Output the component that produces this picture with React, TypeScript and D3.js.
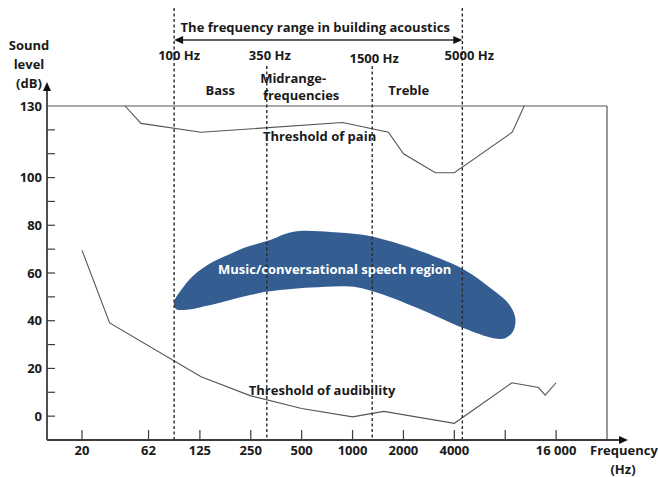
import React from 'react';
import * as d3 from 'd3';

// ---- data ----
const xTickValues = [20, 62, 125, 250, 500, 1000, 2000, 4000, 8000, 16000];
const xTickLabels = ['20', '62', '125', '250', '500', '1000', '2000', '4000', '', '16 000'];
const yTickValues = [0, 10, 20, 30, 40, 50, 60, 70, 80, 90, 100, 110, 120];
const yLabelValues = [0, 20, 40, 60, 80, 100, 130];

const markerFreqs = [88, 311, 1307, 4460];
const markerLabels = ['100 Hz', '350 Hz', '1500 Hz', '5000 Hz'];
const markerTall = [true, false, false, true];

const bandLabels = ['Bass', 'Midrange-|frequencies', 'Treble'];
const bandFreqs = [165, 470, 2150];

const painFreq = [41.6, 54.6, 127, 873, 1630, 2000, 3090, 4000, 8800, 10360];
const painDb = [130, 122.7, 119, 123.1, 119, 110, 102, 102, 119, 130];

const audFreq = [20, 32, 127, 250, 500, 1000, 1530, 4000, 8760, 12580, 13780, 16000];
const audDb = [69.5, 39.1, 16.5, 8.5, 3.2, -0.3, 2, -3, 14, 12, 8.8, 14];

const blobTopFreq = [87.8, 96.6, 115, 145, 183, 227, 315, 448, 741, 1115, 1566, 2420, 4520, 6797, 8221, 9165];
const blobTopDb = [47.8, 52.8, 59.1, 64.2, 67.5, 70.5, 73.5, 77.3, 77.2, 76.1, 73.8, 69.6, 61.6, 52.8, 47.8, 41.5];
const blobBottomFreq = [8919, 8000, 6797, 4520, 2420, 1330, 973, 565, 315, 227, 145, 100.6, 90.2];
const blobBottomDb = [35.7, 32.7, 32.7, 36.9, 45.3, 52.2, 54.3, 53.9, 52.2, 50.1, 46.6, 44.5, 44.9];

// ---- layout ----
const W = 658;
const H = 477;
const axisX = 47;
const baseY = 440;
const FONT = "'Open Sans', Lato, sans-serif";
const FS = 13;
const AX = '#3c3c3c';
const LN = '#555';
const BLUE = '#345d91';
const TXT = '#1a1a1a';

export default function App() {
  const x = d3.scaleLog().domain([20, 62.5, 32000]).range([82, 149, 607]);
  const y = d3.scaleLinear().domain([-10, 130]).range([baseY, 106]);

  const line = d3.line<[number, number]>().x(d => x(d[0])).y(d => y(d[1]));
  const painPts = painFreq.map((f, i) => [f, painDb[i]] as [number, number]);
  const audPts = audFreq.map((f, i) => [f, audDb[i]] as [number, number]);
  const blobPts: [number, number][] = [
    ...blobTopFreq.map((f, i) => [f, blobTopDb[i]] as [number, number]),
    ...blobBottomFreq.map((f, i) => [f, blobBottomDb[i]] as [number, number]),
  ];
  const blobPath = d3
    .line<[number, number]>()
    .x(d => x(d[0]))
    .y(d => y(d[1]))
    .curve(d3.curveCatmullRomClosed.alpha(0.5))(blobPts);

  const topY = y(130);
  const rightX = x(32000);
  const arrowY = 40;
  const xl = x(markerFreqs[0]);
  const xr = x(markerFreqs[3]);
  const labelOffsets = [5, 3, 2, 7];

  return (
    <svg
      width={W}
      height={H}
      style={{ position: 'absolute', left: 0, top: 0, background: '#fff' }}
      fontFamily={FONT}
      fontWeight="bold"
    >
      {/* frame: 130 line and right border */}
      <line x1={axisX} x2={rightX} y1={topY} y2={topY} stroke={LN} strokeWidth={1.2} />
      <line x1={rightX} x2={rightX} y1={topY} y2={baseY} stroke={LN} strokeWidth={1.2} />

      {/* blob */}
      <path d={blobPath || ''} fill={BLUE} />
      <text x={x(784)} y={y(59.5)} fill="#fff" fontSize={FS} textAnchor="middle">
        Music/conversational speech region
      </text>

      {/* curves */}
      <path d={line(painPts) || ''} fill="none" stroke={LN} strokeWidth={1.1} />
      <path d={line(audPts) || ''} fill="none" stroke={LN} strokeWidth={1.1} />
      <text x={x(638)} y={y(115.5)} fontSize={FS} textAnchor="middle" fill={TXT}>
        Threshold of pain
      </text>
      <text x={x(660)} y={y(8.7)} fontSize={FS} textAnchor="middle" fill={TXT}>
        Threshold of audibility
      </text>

      {/* dashed markers */}
      {markerFreqs.map((f, i) => (
        <line
          key={'m' + i}
          x1={x(f)}
          x2={x(f)}
          y1={markerTall[i] ? 8 : 66}
          y2={baseY}
          stroke="#2a2a2a"
          strokeWidth={1.4}
          strokeDasharray="3 2.5"
        />
      ))}
      {markerLabels.map((t, i) => (
        <text
          key={'ml' + i}
          x={x(markerFreqs[i]) + labelOffsets[i]}
          y={i === 2 ? 63 : 60}
          fontSize={FS}
          textAnchor="middle"
          fill={TXT}
        >
          {t}
        </text>
      ))}
      {bandLabels.map((t, i) => {
        const parts = t.split('|');
        return parts.length === 1 ? (
          <text key={'b' + i} x={x(bandFreqs[i])} y={95} fontSize={FS} textAnchor="middle" fill={TXT}>
            {t}
          </text>
        ) : (
          <text key={'b' + i} x={x(bandFreqs[i])} y={83} fontSize={FS} textAnchor="middle" fill={TXT}>
            <tspan x={x(bandFreqs[i]) - 4}>{parts[0]}</tspan>
            <tspan x={x(bandFreqs[i]) + 4} dy={17}>{parts[1]}</tspan>
          </text>
        );
      })}

      {/* range arrow */}
      <line x1={xl + 6} x2={xr - 6} y1={arrowY} y2={arrowY} stroke="#2a2a2a" strokeWidth={1.3} />
      <polygon points={`${xl},${arrowY} ${xl + 9},${arrowY - 4} ${xl + 9},${arrowY + 4}`} fill="#111" />
      <polygon points={`${xr},${arrowY} ${xr - 9},${arrowY - 4} ${xr - 9},${arrowY + 4}`} fill="#111" />
      <text x={(xl + xr) / 2 - 3} y={32} fontSize={FS} textAnchor="middle" fill={TXT}>
        The frequency range in building acoustics
      </text>

      {/* y axis */}
      <line x1={axisX} x2={axisX} y1={baseY} y2={88} stroke={AX} strokeWidth={1.8} />
      <polygon points={`${axisX},82 ${axisX - 4},91 ${axisX + 4},91`} fill="#111" />
      {yTickValues.map(v => (
        <line key={'yt' + v} x1={axisX} x2={axisX + 8} y1={y(v)} y2={y(v)} stroke={AX} strokeWidth={1.2} />
      ))}
      {yLabelValues.map(v => (
        <text key={'yl' + v} x={42} y={y(v)} dy="0.35em" fontSize={FS} textAnchor="end" fill={TXT}>
          {v}
        </text>
      ))}
      <text x={29} fontSize={FS} textAnchor="middle" fill={TXT}>
        <tspan x={29} y={50}>Sound</tspan>
        <tspan x={29} y={69}>level</tspan>
        <tspan x={29} y={88}>(dB)</tspan>
      </text>

      {/* x axis */}
      <line x1={axisX} x2={622} y1={baseY} y2={baseY} stroke={AX} strokeWidth={1.8} />
      <polygon points={`628,${baseY} 619,${baseY - 4} 619,${baseY + 4}`} fill="#111" />
      {xTickValues.map((v, i) => (
        <g key={'xt' + v}>
          <line x1={x(v)} x2={x(v)} y1={baseY} y2={baseY - 10} stroke={AX} strokeWidth={1.2} />
          <text x={x(v)} y={455} fontSize={FS} textAnchor="middle" fill={TXT}>
            {xTickLabels[i]}
          </text>
        </g>
      ))}
      <text x={590} y={455} fontSize={FS} fill={TXT}>
        Frequency
      </text>
      <text x={623} y={474} fontSize={FS} textAnchor="middle" fill={TXT}>
        (Hz)
      </text>
    </svg>
  );
}
